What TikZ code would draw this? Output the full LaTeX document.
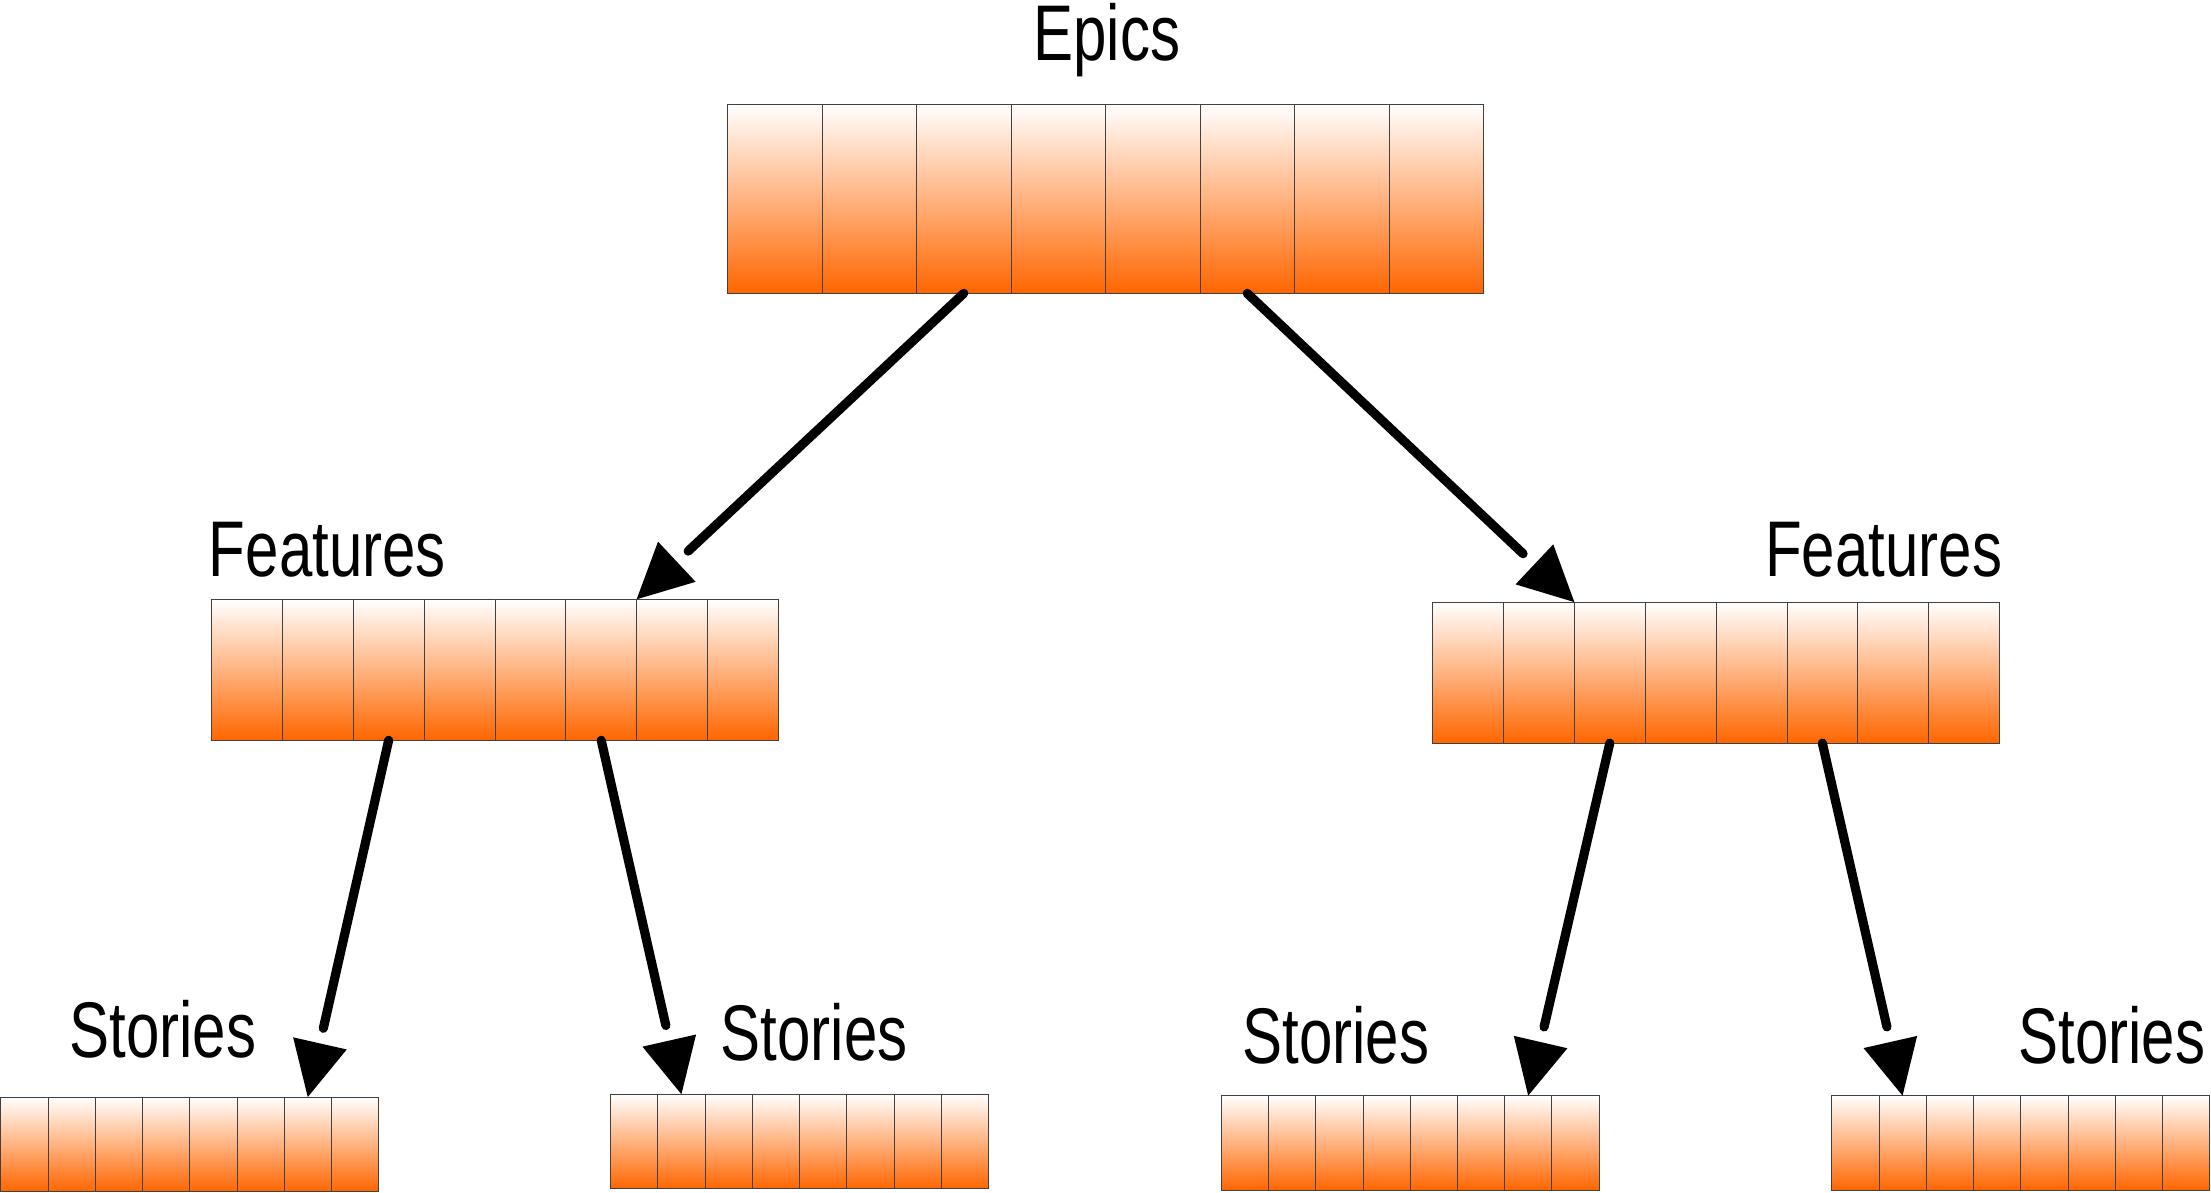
\documentclass[tikz,border=0pt]{standalone}
\usepackage{fontspec}
\setmainfont{Liberation Sans}[FakeStretch=0.76]
\usepackage{xcolor}
\usepackage{tikz}
\usetikzlibrary{decorations.markings}
\definecolor{agileorange}{RGB}{255,102,0}
\tikzset{
	cell/.style={draw=black!75,line width=0.5pt,top color=white,bottom color=agileorange,inner sep=0pt,outer sep=0pt,anchor=north west},
	lbl/.style={inner sep=0pt,font=\fontsize{56}{60}\selectfont},
	link/.style={line width=6.5pt,line cap=round,shorten >=50pt,postaction={decorate},
		decoration={markings,mark=at position 1 with {\fill[black] (0pt,0pt) -- (-39pt,19.5pt) -- (-39pt,-19.5pt) -- cycle;}}}
}

\begin{document}
\begin{tikzpicture}[x=1pt,y=-1pt]
	\useasboundingbox (0,0) rectangle (1568,846);
	% epics
	\foreach \i in {1,...,8}
		\node[cell,minimum width=67pt,minimum height=134pt] (epic\i) at ({516+67*(\i-1)},74) {};
	\node[lbl,anchor=base] (epicsLbl) at (785,43) {Epics};
	% features
	\foreach \i in {1,...,8}
		\node[cell,minimum width=50.25pt,minimum height=100pt] (featL\i) at ({150+50.25*(\i-1)},425) {};
	\foreach \i in {1,...,8}
		\node[cell,minimum width=50.25pt,minimum height=100pt] (featR\i) at ({1016+50.25*(\i-1)},427) {};
	\node[lbl,anchor=base west] (featLLbl) at (148,409) {Features};
	\node[lbl,anchor=base east] (featRLbl) at (1420,409) {Features};
	% stories
	\foreach \i in {1,...,8}
		\node[cell,minimum width=33.5pt,minimum height=67pt] (storA\i) at ({0.5+33.5*(\i-1)},778) {};
	\foreach \i in {1,...,8}
		\node[cell,minimum width=33.5pt,minimum height=67pt] (storB\i) at ({433+33.5*(\i-1)},776) {};
	\foreach \i in {1,...,8}
		\node[cell,minimum width=33.5pt,minimum height=67pt] (storC\i) at ({866+33.5*(\i-1)},777) {};
	\foreach \i in {1,...,8}
		\node[cell,minimum width=33.5pt,minimum height=67pt] (storD\i) at ({1299+33.5*(\i-1)},777) {};
	\node[lbl,anchor=base west] (storALbl) at (49,750) {Stories};
	\node[lbl,anchor=base west] (storBLbl) at (511,752) {Stories};
	\node[lbl,anchor=base west] (storCLbl) at (881,754) {Stories};
	\node[lbl,anchor=base east] (storDLbl) at (1564,754) {Stories};
	% arrows
	\draw[link] (epic3.south) -- (featL7.north west);
	\draw[link] (epic6.south) -- (featR3.north west);
	\draw[link] (featL3.south) -- (storA7.north);
	\draw[link] (featL6.south) -- (storB2.north);
	\draw[link] (featR3.south) -- (storC7.north);
	\draw[link] (featR6.south) -- (storD2.north);
\end{tikzpicture}
\end{document}
